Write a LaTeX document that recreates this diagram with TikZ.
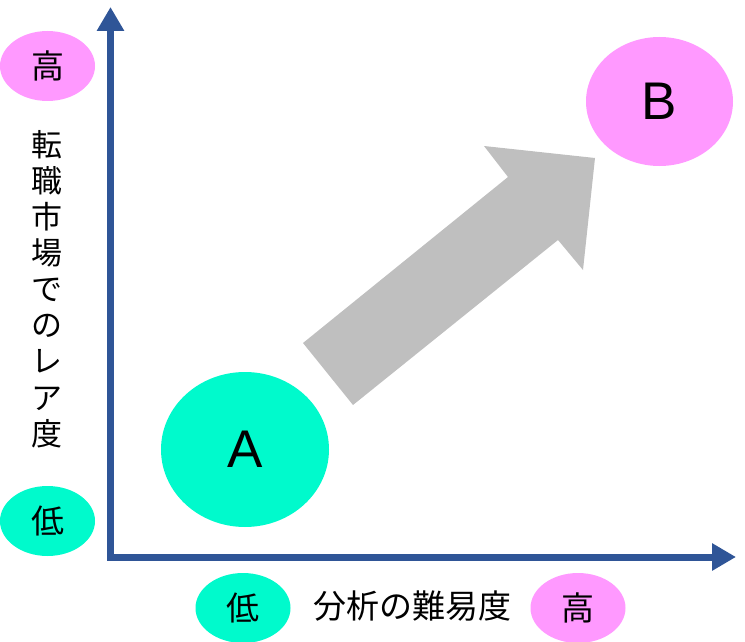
\documentclass[tikz,border=0pt]{standalone}
\usepackage{fontspec}
\setmainfont{Noto Sans CJK JP}
\newfontfamily\latinfont{Liberation Sans}
\usetikzlibrary{arrows.meta,shapes.geometric}
\definecolor{axisblue}{HTML}{2F5597}
\definecolor{tealc}{HTML}{00FACC}
\definecolor{pinkc}{HTML}{FF99FF}
\definecolor{arrowgray}{HTML}{BFBFBF}
\tikzset{
  lvl/.style={ellipse, inner sep=0pt, minimum width=95pt, minimum height=70pt, font=\fontsize{33}{33}\selectfont},
  lowlvl/.style={lvl, fill=tealc},
  highlvl/.style={lvl, fill=pinkc},
  bigpt/.style={ellipse, inner sep=0pt, font=\latinfont\fontsize{53}{53}\selectfont},
  axis/.style={draw=axisblue, line width=7pt, line join=miter,
    {Triangle[length=24pt,width=26pt]}-{Triangle[length=24pt,width=26pt]}},
  axislabel/.style={inner sep=0pt}
}
\begin{document}
\begin{tikzpicture}[x=1pt,y=-1pt]
\useasboundingbox (0,0) rectangle (745,642);
% axes
\coordinate (ytip) at (110.5,7);
\coordinate (corner) at (110.5,557);
\coordinate (xtip) at (736,557);
\draw[axis] (ytip) -- (corner) -- (xtip);
% vertical axis labels
\node[highlvl] (yhigh) at (47.5,66) {高};
\node[lowlvl] (ylow) at (47.5,521) {低};
\node[axislabel, align=center, font=\fontsize{31}{36.1}\selectfont] (ylabel) at (47,289)
  {転\\職\\市\\場\\で\\の\\レ\\ア\\度};
% horizontal axis labels
\node[lowlvl] (xlow) at (243,608) {低};
\node[axislabel, font=\fontsize{33}{33}\selectfont] (xlabel) at (412,606) {分析の難易度};
\node[highlvl] (xhigh) at (578,608) {高};
% points
\node[bigpt, fill=tealc, minimum width=168pt, minimum height=155pt] (A) at (245,449.5) {A};
\node[bigpt, fill=pinkc, minimum width=147pt, minimum height=129pt] (B) at (659.5,101.5) {B};
% big arrow
\fill[arrowgray] (303,343) -- (508,177) -- (484,146) -- (595,158) -- (583,270) -- (558,240) -- (353,405) -- cycle;
\end{tikzpicture}
\end{document}
